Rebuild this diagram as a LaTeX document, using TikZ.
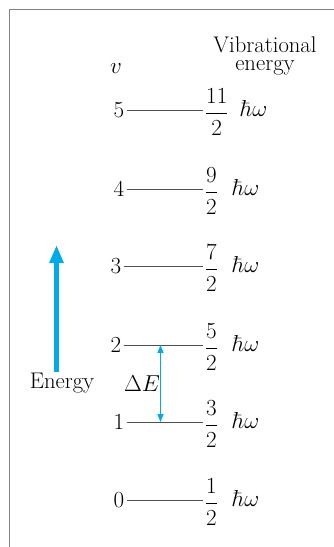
\documentclass[tikz,border=0pt]{standalone}
\usetikzlibrary{arrows.meta}
\definecolor{cyanE}{RGB}{0,170,235}
\definecolor{lvl}{RGB}{80,80,80}
\definecolor{frm}{RGB}{130,130,130}
\begin{document}
\begin{tikzpicture}[x=0.75pt,y=-0.75pt,
  txt/.style={inner sep=0pt,font=\fontsize{17}{19}\selectfont},
  levelline/.style={draw=lvl,line width=0.7pt},
  lnum/.style={txt,anchor=east},
  frac/.style={txt,anchor=west},
  hw/.style={txt,anchor=west}]
\useasboundingbox (0,0) rectangle (334,547);
\draw[frm,line width=0.8pt] (9.5,547) -- (9.5,9.5) -- (334,9.5);
% headers
\node[txt] (vib) at (265,45) {Vibrational};
\node[txt] (ene) at (265,68) {energy};
\node[txt] (vv) at (116,69) {$v$};
% levels
\foreach \n/\y/\xa/\num/\hx in {5/110/127/11/240, 4/189/127/9/232, 3/266/124/7/232, 2/345/124/5/232, 1/422/127/3/232, 0/500/127/1/232}{
  \coordinate (a\n) at (\xa,\y);
  \coordinate (b\n) at (203,\y);
  \draw[levelline] (a\n) -- (b\n);
  \node[lnum] (n\n) at ([xshift=-2pt]a\n) {$\n$};
  \node[frac] (f\n) at ([xshift=1pt,yshift=-1.5pt]b\n) {$\displaystyle\frac{\num}{2}$};
  \node[hw] (h\n) at (\hx,\y-2) {$\hbar\omega$};
}
% energy arrow
\coordinate (eb) at (56.5,372);
\coordinate (et) at (56.5,245);
\draw[cyanE,line width=3.8pt,-{Triangle[length=13.5pt,width=10pt]}] (eb) -- (et);
\node[txt] (energy) at (62,383) {Energy};
% delta E
\coordinate (d2) at (160.5,345);
\coordinate (d1) at (160.5,422);
\draw[cyanE,line width=0.8pt,{Triangle[length=6pt,width=4.5pt]}-{Triangle[length=6pt,width=4.5pt]}] (d2) -- (d1);
\node[txt] (dE) at (142,384) {$\Delta E$};
\end{tikzpicture}
\end{document}
